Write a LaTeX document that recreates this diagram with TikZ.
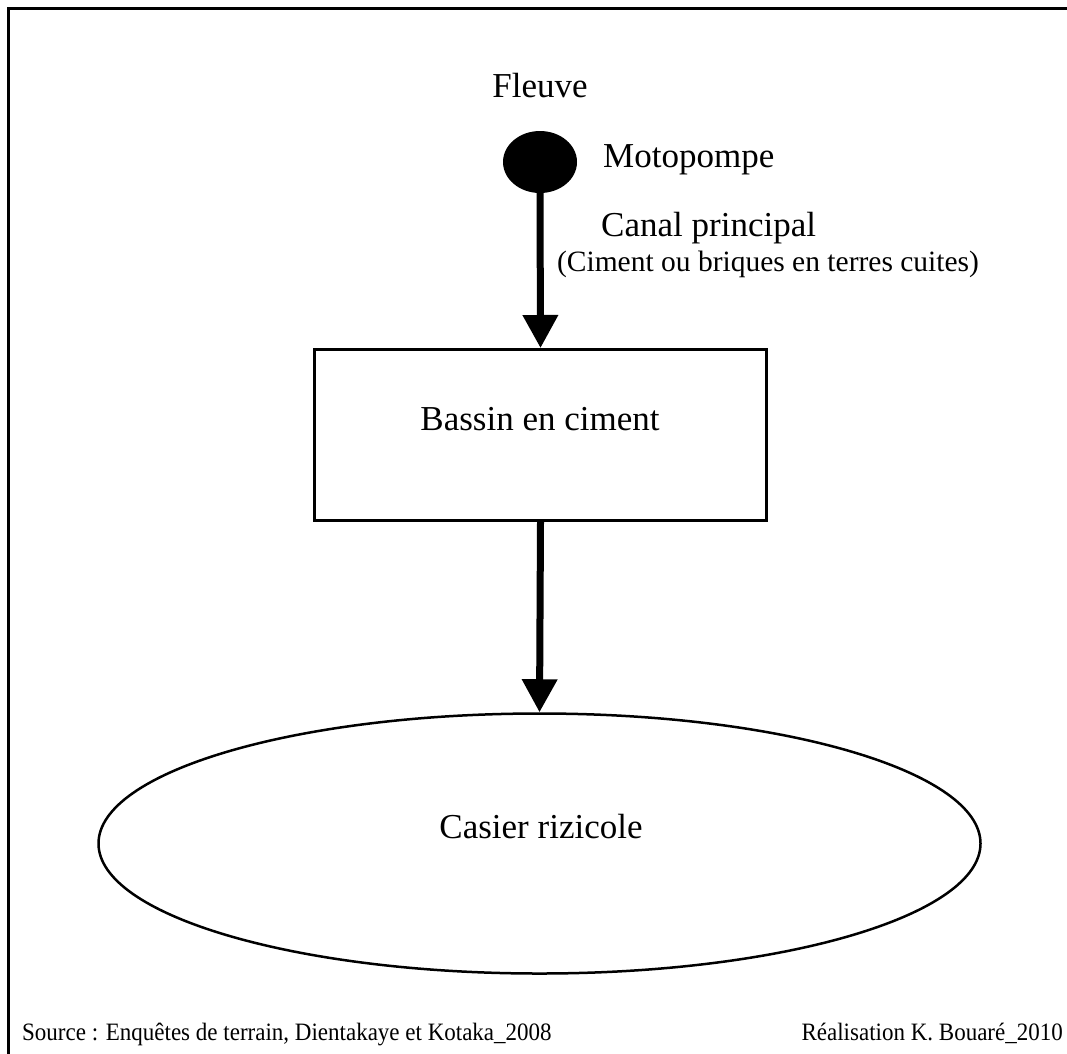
\documentclass[tikz,border=0pt]{standalone}
\usepackage{fontspec}
\setmainfont{Liberation Serif}
\usetikzlibrary{shapes.geometric,arrows.meta}
\tikzset{
  lbl/.style={inner sep=0pt, font=\fontsize{35}{40}\selectfont},
  smalllbl/.style={inner sep=0pt, font=\fontsize{29.5}{34}\selectfont},
  footlbl/.style={inner sep=0pt, font=\fontsize{25}{28}\selectfont},
  boxshape/.style={draw, line width=3pt, minimum width=452pt, minimum height=171pt, inner sep=0pt},
  fieldshape/.style={draw, ellipse, line width=2.5pt, minimum width=882pt, minimum height=260pt, inner sep=0pt},
  pumpshape/.style={ellipse, fill=black, minimum width=74pt, minimum height=62pt, inner sep=0pt},
  flow/.style={line width=7pt, -{Triangle[width=34pt,length=33pt]}},
  frameline/.style={line width=3pt}
}
\begin{document}
\begin{tikzpicture}[x=1pt,y=-1pt]
\useasboundingbox (0,0) rectangle (1067,1053);
\fill[white] (0,0) rectangle (1067,1053);
\coordinate (fa) at (8.5,1060);
\coordinate (fb) at (8.5,8.5);
\coordinate (fc) at (1075,8.5);
\draw[frameline] (fa) -- (fb) -- (fc);

\node[lbl, anchor=base] (fleuve) at (540,97) {Fleuve};
\node[pumpshape] (pump) at (540,162) {};
\node[lbl, anchor=base west] (pumplbl) at (603,167) {Motopompe};
\node[lbl, anchor=base west] (canal) at (601,236) {Canal principal};
\node[smalllbl, anchor=base] (canalsub) at (768,271) {(Ciment ou briques en terres cuites)};

\node[boxshape] (bassin) at (540.5,435) {};
\node[lbl, anchor=base] (bassinlbl) at (540,430) {Bassin en ciment};

\node[fieldshape] (casier) at (539.5,843.5) {};
\node[lbl, anchor=base] (casierlbl) at (541,838) {Casier rizicole};

\draw[flow] (pump.south) -- (bassin.north);
\draw[flow] (bassin.south) -- (casier.north);

\node[footlbl, anchor=base west] (source) at (22,1040) {\scalebox{0.92}[1]{Source : Enquêtes de terrain, Dientakaye et Kotaka\_2008}};
\node[footlbl, anchor=base east] (real) at (1063,1040) {\scalebox{0.92}[1]{Réalisation K. Bouaré\_2010}};
\end{tikzpicture}
\end{document}
